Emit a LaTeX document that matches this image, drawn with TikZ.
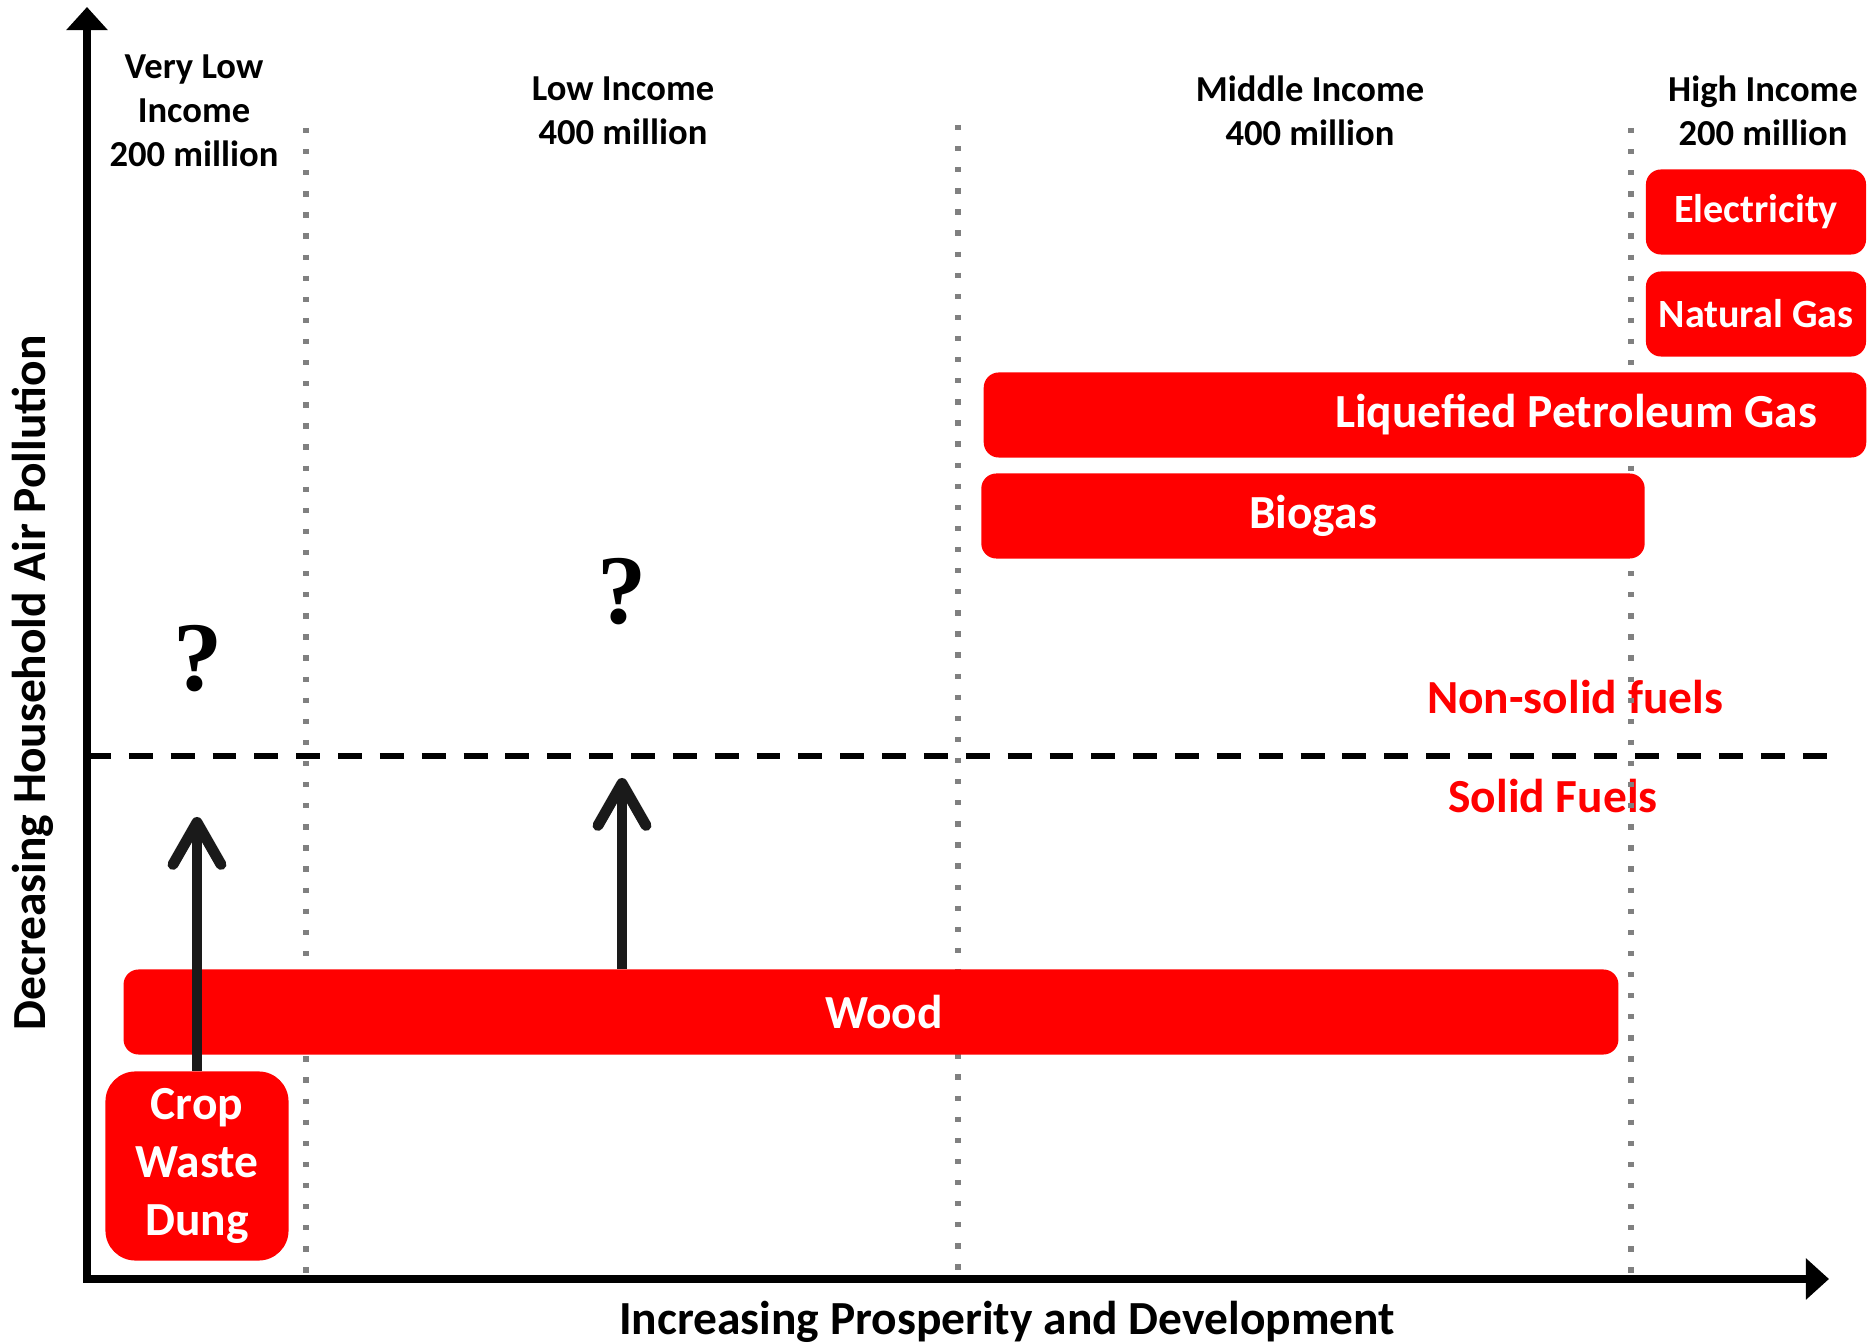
\documentclass[tikz,border=0pt]{standalone}
\usepackage{fontspec}
\setmainfont{Carlito}
\newfontfamily\qmarkfont{Liberation Serif}
\usetikzlibrary{arrows.meta,positioning,calc}
\definecolor{fuelred}{HTML}{FF0000}
\definecolor{arrowgray}{HTML}{1A1A1A}
\definecolor{dotgray}{HTML}{808080}
\newcommand{\titlefont}{\fontsize{10.4pt}{12.5pt}\selectfont\bfseries}
\newcommand{\boxfont}{\fontsize{13.5pt}{16.5pt}\selectfont\bfseries}
\newcommand{\smallboxfont}{\fontsize{11.4pt}{13.7pt}\selectfont\bfseries}

\begin{document}
\begin{tikzpicture}[x=0.01cm, y=-0.01cm,
		fuel/.style={fill=fuelred, text=white, rounded corners=0.15cm, inner sep=0pt, minimum height=0.85cm, font=\boxfont},
		levelline/.style={dotgray, line width=1.5pt, dash pattern=on 1.5pt off 4.5pt},
		rise/.style={arrowgray, line width=3.1pt, -{Straight Barb[length=0.42cm,width=0.48cm,round]}}]
		\tikzstyle{title}=[align=center, font=\titlefont, inner sep=0pt]
		\tikzstyle{fueltext}=[text=fuelred, font=\boxfont, inner sep=0pt]
		\useasboundingbox (0,0) rectangle (1868,1343);
		% axes
		\coordinate (origin) at (87,1279);
		\draw [line width=2.3pt, {Triangle[length=0.23cm,width=0.4cm]}-{Triangle[length=0.23cm,width=0.4cm]}] (87,7) -- (origin) -- (1829,1279);
		\node [font=\boxfont, rotate=90] (ylab) at (33,683) {Decreasing Household Air Pollution};
		\node [font=\boxfont] (xlab) at (1007,1322) {Increasing Prosperity and Development};
		% income groups
		\node [title] (vlow) at (194,111) {Very Low\\Income\\200 million};
		\node [title] (low) at (623,111) {Low Income\\400 million};
		\node [title] (mid) at (1310,111) {Middle Income\\400 million};
		\node [title] (high) at (1763,111) {High Income\\200 million};
		% fuel type labels
		\node [fueltext] (nonsolid) at (1575,697) {Non-solid fuels};
		\node [fueltext] (solid) at (1553,796) {Solid Fuels};
		\draw [line width=1.7pt, dash pattern=on 6.8pt off 5.1pt] (87,756) -- (1830,756);
		% group borders
		\draw [levelline] (306,128) -- (306,1279);
		\draw [levelline] (958,125) -- (958,1279);
		\draw [levelline] (1631,128) -- (1631,1279);
		% fuels
		\node [fuel, font=\smallboxfont, minimum width=2.2cm] (elec) at (1756,212) {Electricity};
		\node [fuel, font=\smallboxfont, minimum width=2.2cm] (gas) at (1756,314) {Natural Gas};
		\node [fuel, text width=7.84cm, align=flush right, inner xsep=0.49cm] (lpg) at (1425,415) {Liquefied Petroleum Gas};
		\node [fuel, minimum width=6.63cm] (biogas) at (1313,516) {Biogas};
		\node [fuel, minimum width=14.94cm] (wood) at (871,1012) {\hspace*{0.26cm}Wood};
		\node [fuel, minimum width=1.83cm, minimum height=1.89cm, rounded corners=0.3cm, align=center] (crop) at (197,1166) {Crop\\Waste\\Dung};
		% unknown steps
		\node [font=\qmarkfont\fontsize{28pt}{30pt}\selectfont\bfseries, inner sep=0pt] (qvlow) at (198,659) {?};
		\node [font=\qmarkfont\fontsize{28pt}{30pt}\selectfont\bfseries, inner sep=0pt] (qlow) at (622,592) {?};
		\coordinate (vlowtip) at (crop.north |- 0,817);
		\coordinate (lowtip) at (qlow |- 0,778);
		\draw [rise] (crop.north) -- (vlowtip);
		\draw [rise] (wood.north -| qlow) -- (lowtip);
	\end{tikzpicture}
\end{document}
